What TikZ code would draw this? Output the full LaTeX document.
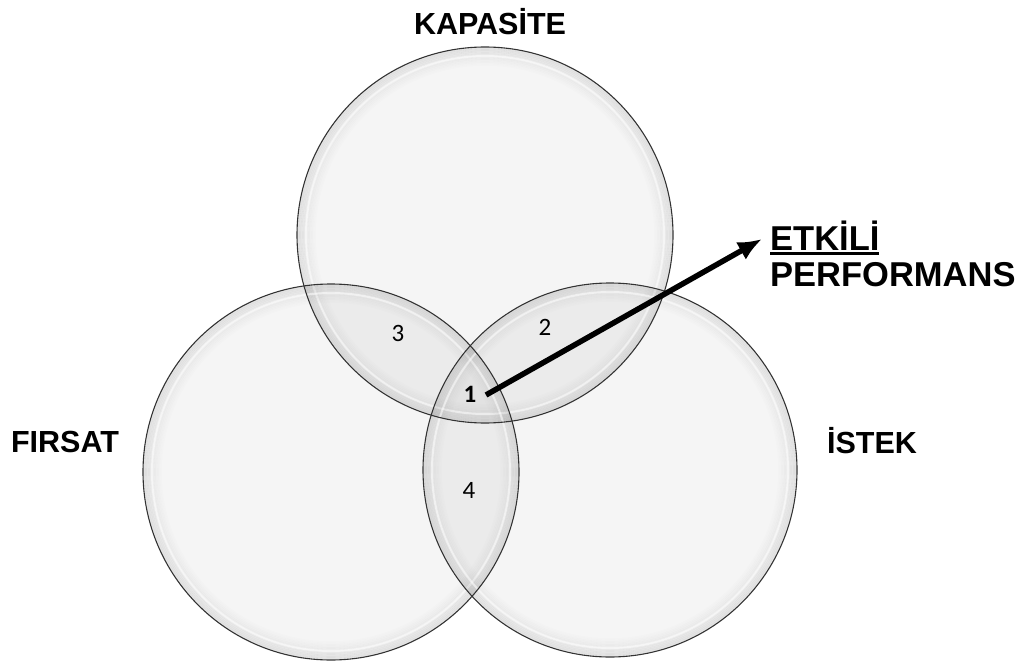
\documentclass[tikz,border=0pt]{standalone}
\usepackage{fontspec}
\setmainfont{Liberation Sans}
\newfontfamily\numfont{Carlito}
\usetikzlibrary{arrows.meta}
\newcommand\ulbox[1]{\setbox0\hbox{#1}\rlap{\rule[-5pt]{\wd0}{2.8pt}}\box0}
\tikzset{
  lbl/.style={font=\fontsize{30.5}{34}\selectfont\bfseries, inner sep=0pt},
  biglbl/.style={font=\fontsize{34.5}{38}\selectfont\bfseries, inner sep=0pt, anchor=base west},
  num/.style={font=\numfont\fontsize{25}{28}\selectfont, inner sep=1pt},
  arr/.style={line width=5.5pt, -{Latex[length=24pt,width=20pt]}},
}
\begin{document}
\begin{tikzpicture}[x=1pt,y=-1pt]
\useasboundingbox (0,0) rectangle (1031,666);
\coordinate (ctop) at (485,235);
\coordinate (cleft) at (331,472);
\coordinate (cright) at (610,470);
% fills
\foreach \c/\r in {ctop/188,cleft/188,cright/187}{
  \fill[black, fill opacity=0.04] (\c) circle (\r);
}
% edge shading
\foreach \c/\r in {ctop/188,cleft/188,cright/187}{
  \foreach \k in {1,...,12}{
    \draw[black, opacity={0.08*(1-\k/13)}, line width=1.6pt] (\c) circle ({\r-\k*1.5});
  }
  \draw[white, opacity=0.55, line width=2pt] (\c) circle ({\r-9});
}
% outlines
\foreach \c/\r in {ctop/188,cleft/188,cright/187}{
  \draw[black!80, line width=1.1pt] (\c) circle (\r);
}
% labels
\node[lbl] (kap) at (490,22) {KAPASİTE};
\node[lbl] (fir) at (65,442) {FIRSAT};
\node[lbl] (ist) at (872,441) {İSTEK};
\node[biglbl] (etk) at (770,250) {\ulbox{ETKİLİ}};
\node[biglbl] (perf) at (770,286) {PERFORMANS};
% numbers
\node[num] (n3) at (398,333) {3};
\node[num] (n2) at (545,327) {2};
\node[num, font=\numfont\fontsize{25}{28}\selectfont\bfseries] (n1) at (470,394) {1};
\node[num] (n4) at (469,490) {4};
% arrow
\coordinate (tip) at (762,239);
\draw[arr] (486,395) -- (tip);
\end{tikzpicture}
\end{document}
